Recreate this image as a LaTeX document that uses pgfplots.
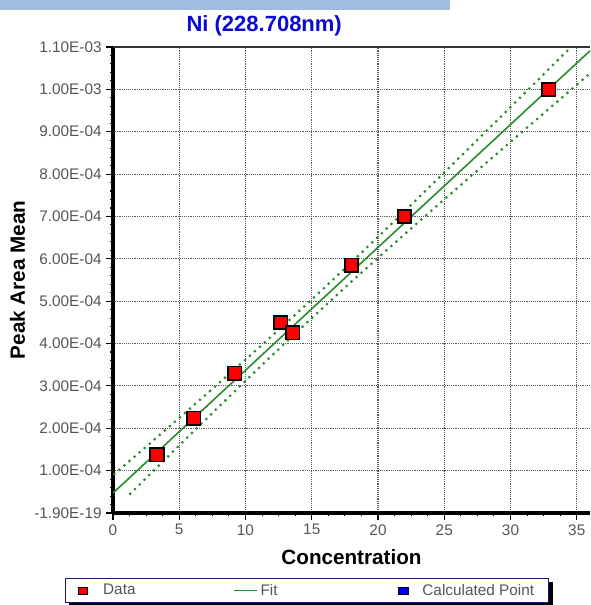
\documentclass[border=0pt]{standalone}
\usepackage{pgfplots}
\pgfplotsset{compat=1.18}
\usepackage{fontspec}
\setmainfont{Liberation Sans}
\definecolor{fitgreen}{RGB}{40,140,45}
\definecolor{navy}{RGB}{25,25,120}
\definecolor{banner}{RGB}{160,188,224}
\definecolor{titleblue}{RGB}{10,10,210}
\definecolor{ticktext}{RGB}{85,85,85}
\begin{document}
\begin{tikzpicture}
\useasboundingbox (-84.75pt,-69pt) rectangle (357.75pt,384.75pt);
\fill[banner] (-84.75pt,377.25pt) rectangle (252.75pt,384.75pt);
\begin{axis}[
  at={(0,0)}, anchor=south west,
  scale only axis,
  width=357.75pt, height=349.5pt,
  xmin=0, xmax=36, ymin=0, ymax=0.0011,
  scaled y ticks=false,
  axis x line*=bottom, axis y line*=left,
  axis line style={line width=2.6pt, black},
  xtick={0,5,10,15,20,25,30,35},
  ytick={0,0.0001,0.0002,0.0003,0.0004,0.0005,0.0006,0.0007,0.0008,0.0009,0.001,0.0011},
  yticklabels={-1.90E-19,1.00E-04,2.00E-04,3.00E-04,4.00E-04,5.00E-04,6.00E-04,7.00E-04,8.00E-04,9.00E-04,1.00E-03,1.10E-03},
  minor x tick num=3, minor y tick num=4,
  tick align=outside,
  major tick length=5pt, minor tick length=2.5pt,
  tick style={black, line width=0.8pt},
  /pgf/number format/assume math mode=true,
  ticklabel style={font=\fontsize{11.5}{13}\selectfont, text=ticktext},
  grid=major,
  major grid style={densely dotted, gray!70!black, line width=0.8pt},
  xlabel={\textbf{Concentration}},
  ylabel={\textbf{Peak Area Mean}},
  label style={font=\fontsize{15.5}{18}\selectfont},
  xlabel style={yshift=-4pt},
  title={\textbf{Ni (228.708nm)}},
  title style={font=\fontsize{16.5}{19}\selectfont, text=titleblue, at={(rel axis cs:0.317,1)}, anchor=south, yshift=-1pt},
  legend style={name=leg, at={(rel axis cs:0,0)}, anchor=north west, xshift=-36pt, yshift=-48.75pt,
    draw=navy, line width=1.1pt, fill=white,
    font=\fontsize{11.5}{13}\selectfont, text=ticktext,
    inner ysep=2pt, inner xsep=9pt},
  legend columns=3,
  legend cell align=left,
]
\addplot[forget plot, fitgreen, line width=1.2pt] coordinates {(0,0.47e-4) (36,10.91e-4)};
\addplot[forget plot, fitgreen, line width=2.3pt, line cap=round, dash pattern=on 0pt off 5pt] coordinates {
(0.1,0.92e-4) (2.5,1.565e-4) (5,2.244e-4) (7.5,2.929e-4) (10,3.621e-4) (12.5,4.323e-4) (15,5.039e-4) (17.5,5.771e-4) (20,6.516e-4) (22.5,7.273e-4) (25,8.038e-4) (27.5,8.807e-4) (30,9.58e-4) (32.5,10.356e-4) (35,11.133e-4) (36,11.445e-4)};
\addplot[forget plot, fitgreen, line width=2.3pt, line cap=round, dash pattern=on 0pt off 5pt] coordinates {
(1.3,0.454e-4) (2.5,0.825e-4) (5,1.596e-4) (7.5,2.361e-4) (10,3.119e-4) (12.5,3.867e-4) (15,4.601e-4) (17.5,5.319e-4) (20,6.024e-4) (22.5,6.717e-4) (25,7.403e-4) (27.5,8.083e-4) (30,8.76e-4) (32.5,9.434e-4) (35,10.107e-4) (36,10.375e-4)};
\addplot[forget plot, only marks, mark=square*, mark size=5pt, mark options={fill=red, draw=black, line width=1.3pt}] coordinates {
(3.32,1.37e-4) (6.1,2.24e-4) (9.2,3.30e-4) (12.67,4.50e-4) (13.57,4.25e-4) (18.0,5.85e-4) (22.0,7.00e-4) (32.9,10.0e-4)};
\draw[black!80, line width=1.2pt] (rel axis cs:0,1) -- (rel axis cs:1,1);
\addlegendimage{legend image code/.code={\path[draw=none,fill=none] (0,0) -- (0.6cm,0); \draw[fill=red,draw=black,line width=0.8pt] (0.03cm,-0.09cm) rectangle (0.25cm,0.09cm);}}
\addlegendentry{\makebox[95.8pt][l]{Data}}
\addlegendimage{legend image code/.code={\draw[fitgreen,line width=1.2pt] (0,0) -- (0.6cm,0);}}
\addlegendentry{\makebox[100.3pt][l]{Fit}}
\addlegendimage{legend image code/.code={\path[draw=none,fill=none] (0,0) -- (0.6cm,0); \draw[fill=blue,draw=black,line width=0.8pt] (0.03cm,-0.09cm) rectangle (0.3cm,0.09cm);}}
\addlegendentry{Calculated Point}
\end{axis}
\fill[black] ([yshift=-3pt]leg.north east) rectangle ([xshift=3pt,yshift=-3pt]leg.south east);
\fill[black] ([xshift=3pt,yshift=-3pt]leg.south west) rectangle ([xshift=3pt]leg.south east);
\end{tikzpicture}
\end{document}
